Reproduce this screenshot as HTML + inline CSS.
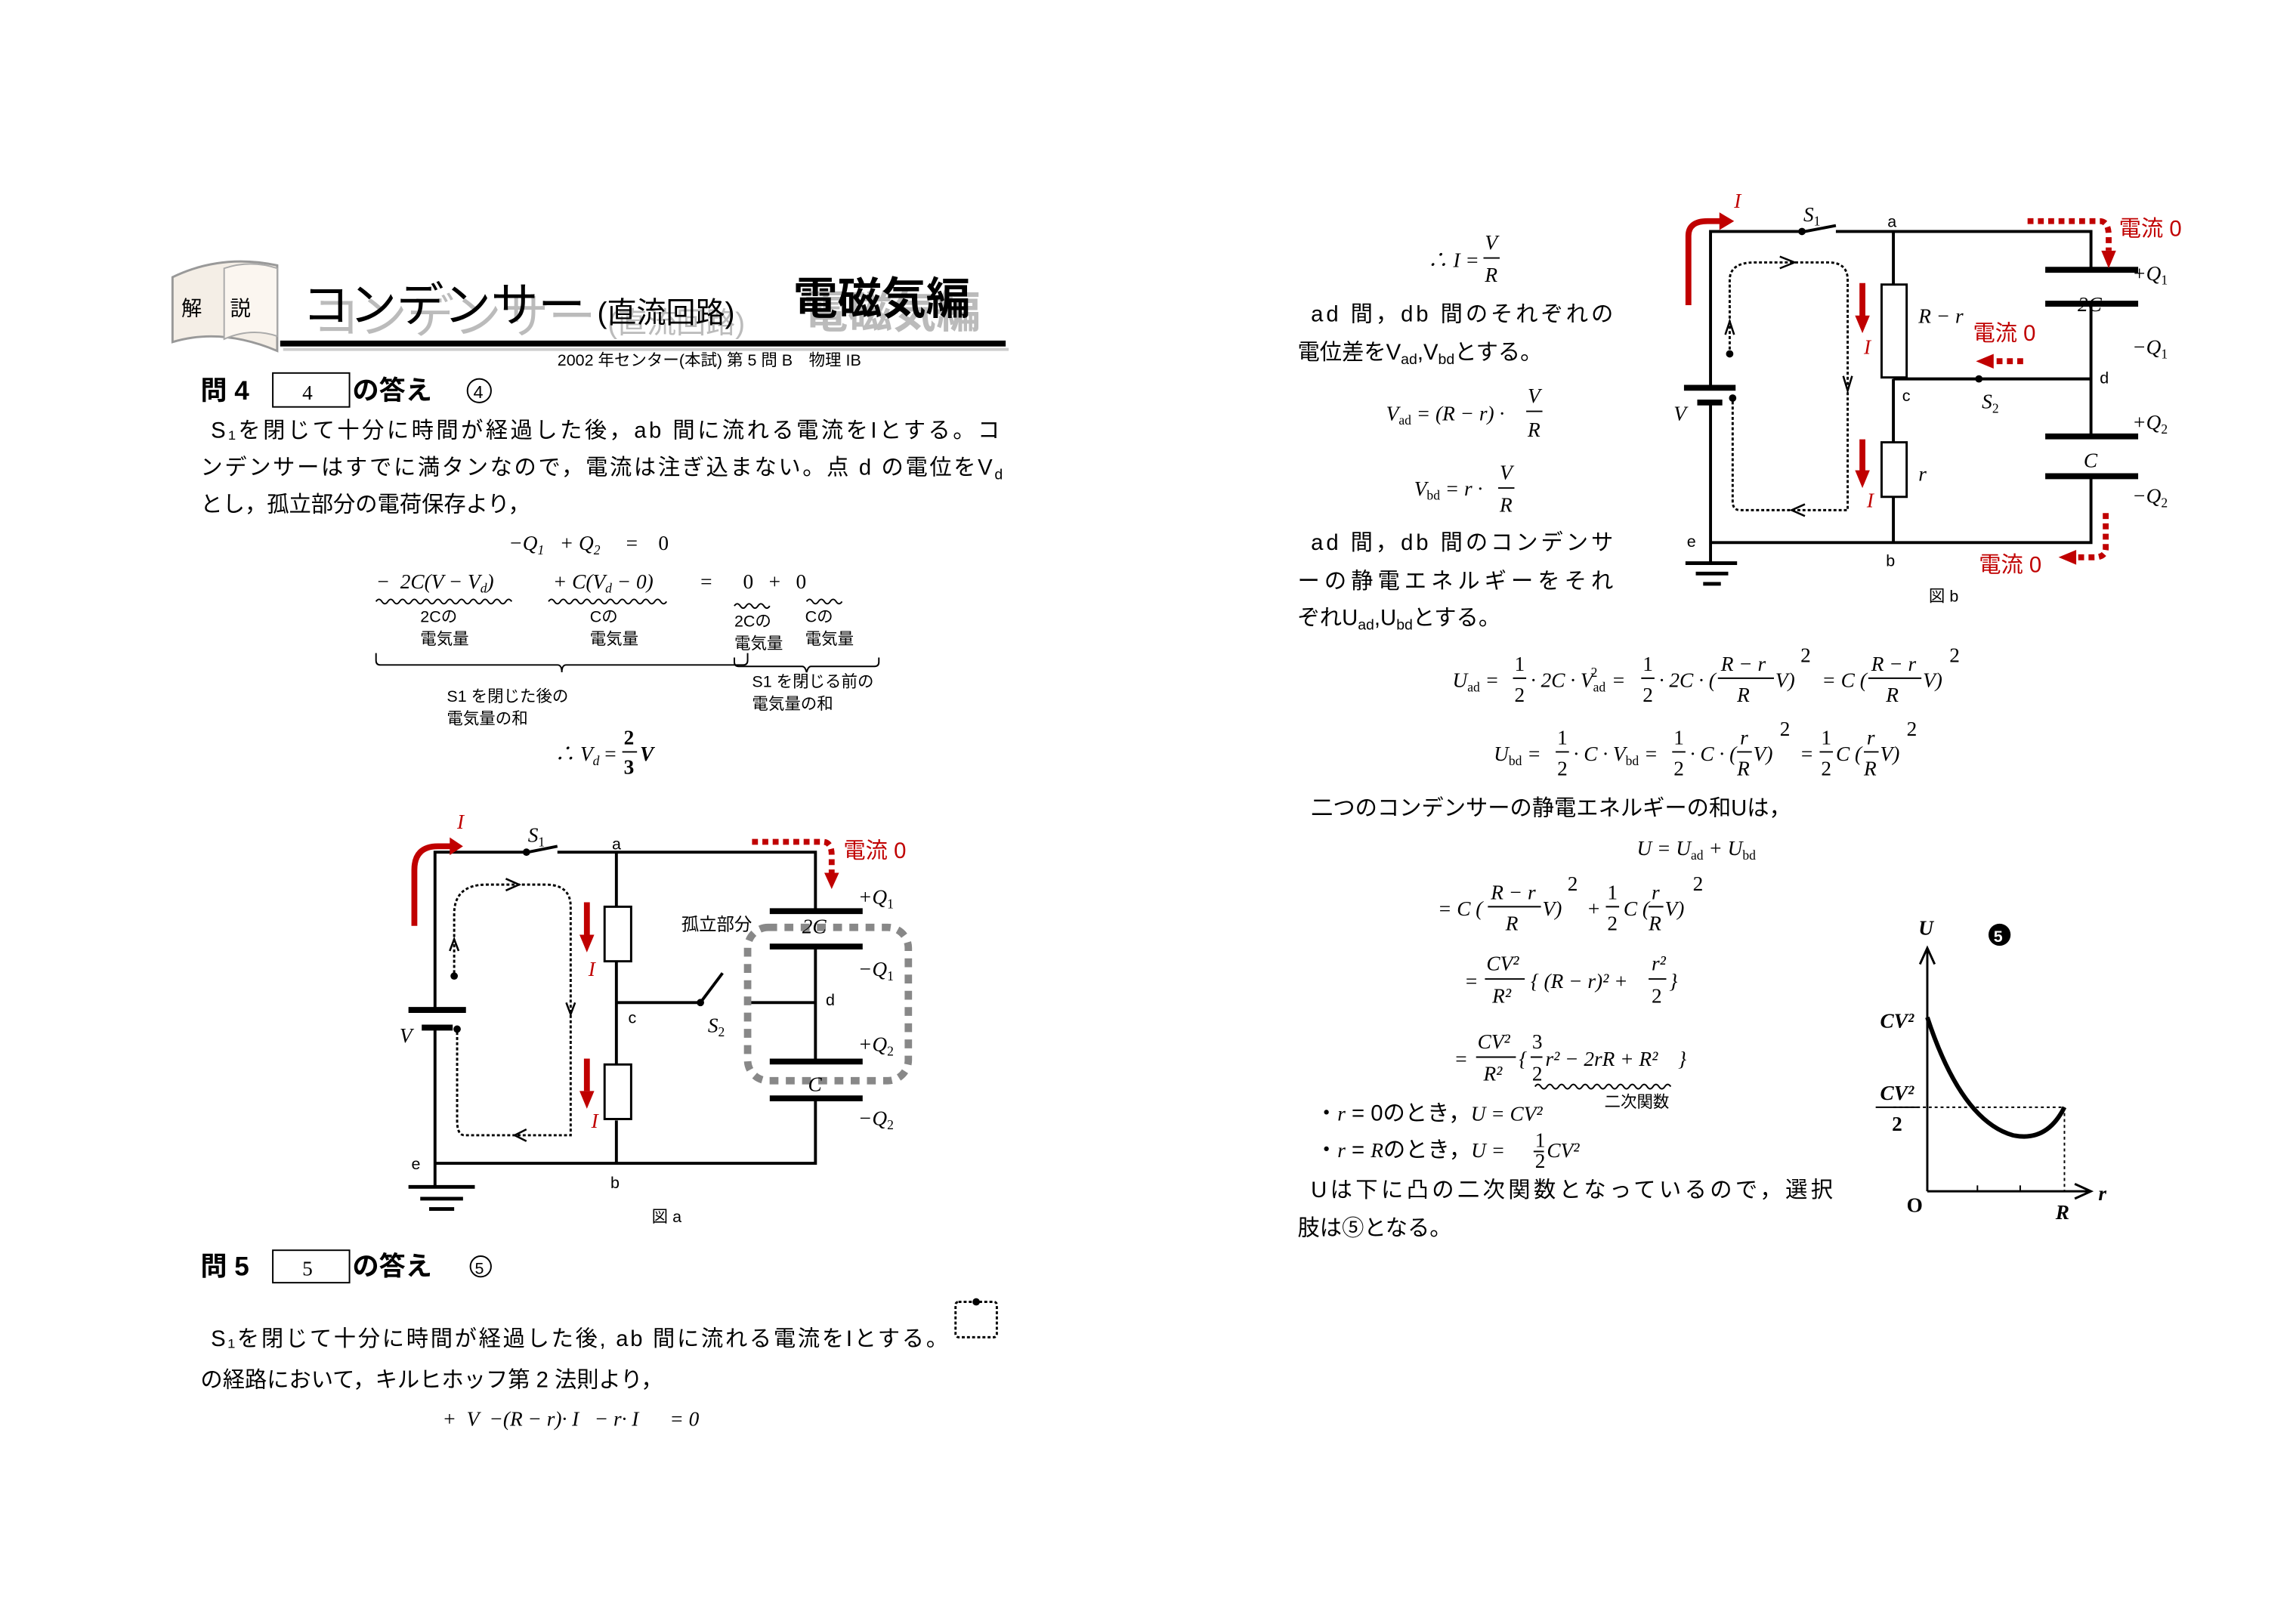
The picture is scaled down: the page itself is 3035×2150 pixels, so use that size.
<!DOCTYPE html>
<html><head><meta charset="utf-8"><style>
html,body{margin:0;padding:0;background:#fff;}
svg{display:block;}
text{font-family:"Liberation Sans","Noto Sans CJK JP",sans-serif;fill:#000;white-space:pre;}
.t{font-size:15px;}
.s{font-size:11px;}
.m{font-family:"Liberation Serif","Noto Serif CJK SC",serif;font-style:italic;font-size:14px;}
.n{font-family:"Liberation Serif",serif;font-size:14px;}
.w{stroke:#000;stroke-width:2;fill:none;}
.pl{stroke:#000;stroke-width:4;}
.dt{stroke:#000;stroke-width:1.5;stroke-dasharray:2 1.5;fill:none;}
.rd{stroke:#c00000;stroke-width:4;fill:none;}
.rdd{stroke:#c00000;stroke-width:4;stroke-dasharray:4 3;fill:none;}
</style></head><body>
<svg width="3035" height="2150" viewBox="0 0 1555 1101.5" preserveAspectRatio="none" xmlns="http://www.w3.org/2000/svg" xml:space="preserve">
<rect width="1555" height="1101.5" fill="#fff"/>
<path d="M117 232 Q150 222 188 238 L188 180 Q150 172 117 188 Z" fill="#f4eee6" stroke="#999" stroke-width="1.5"/>
<path d="M152 230 Q170 222 188 228 L188 182 Q170 176 152 182 Z" fill="#fbf6f0" stroke="#aaa"/>
<text x="123" y="214" font-size="14">解</text><text x="156" y="214" font-size="14">説</text>
<text x="212" y="226" font-size="32" style="fill:#bbb">コンデンサー</text>
<text x="412" y="226" font-size="20" style="fill:#bbb">(直流回路)</text>
<text x="545" y="222" font-size="30" font-weight="bold" style="fill:#bbb">電磁気編</text>
<text x="205" y="218" font-size="32">コンデンサー</text>
<text x="405" y="219" font-size="20">(直流回路)</text>
<text x="538" y="213" font-size="30" font-weight="bold">電磁気編</text>
<rect x="190" y="231" width="492" height="4" fill="#000"/>
<rect x="192" y="236" width="492" height="2" fill="#ccc"/>
<text x="378" y="248" class="s">2002 年センター(本試) 第 5 問 B　物理 IB</text>
<text x="136" y="271" font-size="18" font-weight="bold">問 4</text>
<rect x="185" y="253" width="52" height="23" fill="none" stroke="#000"/>
<text x="205" y="271" font-size="17" class="n">4</text>
<text x="239" y="271" font-size="18" font-weight="bold">の答え</text>
<circle cx="325" cy="265" r="8" fill="none" stroke="#000"/><text x="321" y="270" font-size="12">4</text>
<text x="143" y="297" class="t" textLength="535" lengthAdjust="spacing">S₁を閉じて十分に時間が経過した後，ab 間に流れる電流をIとする。コ</text>
<text x="136" y="322" class="t" textLength="544" lengthAdjust="spacing">ンデンサーはすでに満タンなので，電流は注ぎ込まない。点 d の電位をV<tspan font-size="10" dy="3">d</tspan></text>
<text x="136" y="347" class="t">とし，孤立部分の電荷保存より，</text>
<text x="345" y="373" class="m">−Q<tspan font-size="9" dy="3">1</tspan><tspan dy="-3">   + Q</tspan><tspan font-size="9" dy="3">2</tspan><tspan dy="-3" font-style="normal">     =    0</tspan></text>
<text x="255" y="399" class="m">−  2C(V − V<tspan font-size="9" dy="3">d</tspan><tspan dy="-3">)</tspan></text>
<text x="375" y="399" class="m">+ C(V<tspan font-size="9" dy="3">d</tspan><tspan dy="-3"> − 0)</tspan></text>
<text x="475" y="399" class="n">=      0   +   0</text>
<path d="M255 408 q2 -3 4 0 t4 0 t4 0 t4 0 t4 0 t4 0 t4 0 t4 0 t4 0 t4 0 t4 0 t4 0 t4 0 t4 0 t4 0 t4 0 t4 0 t4 0 t4 0 t4 0 t4 0 t4 0 t4 0" stroke="#000" fill="none"/>
<path d="M372 408 q2 -3 4 0 t4 0 t4 0 t4 0 t4 0 t4 0 t4 0 t4 0 t4 0 t4 0 t4 0 t4 0 t4 0 t4 0 t4 0 t4 0 t4 0 t4 0 t4 0 t4 0" stroke="#000" fill="none"/>
<path d="M498 411 q2 -3 4 0 t4 0 t4 0 t4 0 t4 0 t4 0" stroke="#000" fill="none"/>
<path d="M547 408 q2 -3 4 0 t4 0 t4 0 t4 0 t4 0 t4 0" stroke="#000" fill="none"/>
<text x="285" y="422" class="s">2Cの</text><text x="285" y="437" class="s">電気量</text>
<text x="400" y="422" class="s">Cの</text><text x="400" y="437" class="s">電気量</text>
<text x="498" y="425" class="s">2Cの</text><text x="498" y="440" class="s">電気量</text>
<text x="546" y="422" class="s">Cの</text><text x="546" y="437" class="s">電気量</text>
<path d="M255 443 v5 q0 3 3 3 h120 q3 0 3 5 q0 -5 3 -5 h120 q3 0 3 -3 v-5" stroke="#000" fill="none"/>
<path d="M498 446 v3 q0 3 3 3 h43 q2 0 3 4 q1 -4 3 -4 h43 q3 0 3 -3 v-3" stroke="#000" fill="none"/>
<text x="303" y="476" class="s">S1 を閉じた後の</text><text x="303" y="491" class="s">電気量の和</text>
<text x="510" y="466" class="s">S1 を閉じる前の</text><text x="510" y="481" class="s">電気量の和</text>
<text x="376" y="516" class="m">∴ V<tspan font-size="9" dy="3">d</tspan><tspan dy="-3" font-style="normal"> =</tspan></text>
<text x="423" y="505" class="n" font-weight="bold">2</text><line x1="422" y1="510" x2="432" y2="510" stroke="#000"/><text x="423" y="525" class="n" font-weight="bold">3</text>
<text x="434" y="516" class="m" font-weight="bold">V</text>
<g>
<path class="w" d="M295 684 V578 H355 M378 574 L358 578 M378 578 H553 V618"/>
<circle cx="357" cy="578" r="2.5"/>
<path class="w" d="M295 697 V805 M295 789 H553 V745 M553 642 V720 M418 578 V615 M418 652 V722 M418 760 V789 M418 680 H475 L490 660 M505 680 H553"/>
<circle cx="475" cy="680" r="2.5"/>
<rect x="410" y="615" width="18" height="37" fill="#fff" stroke="#000" stroke-width="1.5"/>
<rect x="410" y="722" width="18" height="37" fill="#fff" stroke="#000" stroke-width="1.5"/>
<line class="pl" x1="277" y1="685" x2="316" y2="685"/><line class="pl" x1="286" y1="697" x2="307" y2="697"/>
<line x1="277" y1="805" x2="322" y2="805" stroke="#000" stroke-width="2.5"/><line x1="285" y1="813" x2="314" y2="813" stroke="#000" stroke-width="2.5"/><line x1="291" y1="820" x2="308" y2="820" stroke="#000" stroke-width="2.5"/>
<line class="pl" x1="522" y1="618" x2="585" y2="618"/><line class="pl" x1="522" y1="642" x2="585" y2="642"/>
<line class="pl" x1="522" y1="720" x2="585" y2="720"/><line class="pl" x1="522" y1="745" x2="585" y2="745"/>
<rect x="507" y="629" width="109" height="104" rx="14" fill="none" stroke="#888" stroke-width="5" stroke-dasharray="6 5"/>
<path class="dt" d="M308 660 V620 Q308 600 330 600 H370 Q387 600 387 615 V770 H315 Q310 770 310 760 V700"/>
<circle cx="308" cy="662" r="2.5"/><circle cx="310" cy="698" r="2.5"/>
<path d="M343 596 L352 600 L343 604 M305 645 L308 637 L311 645 M384 680 L387 688 L390 680 M357 766 L349 770 L357 774" stroke="#000" fill="none" stroke-width="1.3"/>
<path class="rd" d="M281 628 V590 Q281 574 297 574 H306"/><path d="M305 568 L314 574 L305 580 Z" fill="#c00000"/>
<text x="310" y="562" class="m" style="fill:#c00000">I</text>
<path class="rd" d="M398 612 V635"/><path d="M393 634 L398 646 L403 634 Z" fill="#c00000"/>
<path class="rd" d="M398 718 V740"/><path d="M393 740 L398 752 L403 740 Z" fill="#c00000"/>
<text x="399" y="662" class="m" style="fill:#c00000">I</text><text x="401" y="765" class="m" style="fill:#c00000">I</text>
<path class="rdd" d="M510 571 H558 Q564 571 564 580 V592"/><path d="M559 592 L564 603 L569 592 Z" fill="#c00000"/>
<text x="572" y="582" class="t" style="fill:#c00000">電流 0</text>
<text x="358" y="571" class="m">S<tspan font-size="9" dy="3" font-style="normal">1</tspan></text>
<text x="415" y="576" class="s">a</text><text x="426" y="694" class="s">c</text><text x="414" y="806" class="s">b</text><text x="279" y="793" class="s">e</text>
<text x="560" y="682" class="s">d</text>
<text x="480" y="700" class="m">S<tspan font-size="9" dy="3" font-style="normal">2</tspan></text>
<text x="271" y="707" class="m">V</text>
<text x="462" y="631" font-size="12">孤立部分</text><text x="544" y="633" class="m">2C</text><text x="548" y="740" class="m">C</text>
<text x="582" y="613" class="m">+Q<tspan font-size="9" dy="3" font-style="normal">1</tspan></text>
<text x="582" y="662" class="m">−Q<tspan font-size="9" dy="3" font-style="normal">1</tspan></text>
<text x="582" y="713" class="m">+Q<tspan font-size="9" dy="3" font-style="normal">2</tspan></text>
<text x="582" y="763" class="m">−Q<tspan font-size="9" dy="3" font-style="normal">2</tspan></text>
<text x="442" y="829" class="s">図 a</text>
</g>
<text x="136" y="865" font-size="18" font-weight="bold">問 5</text>
<rect x="185" y="848" width="52" height="22" fill="none" stroke="#000"/>
<text x="205" y="865" font-size="17" class="n">5</text>
<text x="239" y="865" font-size="18" font-weight="bold">の答え</text>
<circle cx="326" cy="859" r="7" fill="none" stroke="#000"/><text x="322" y="864" font-size="11">5</text>
<text x="143" y="913" class="t" textLength="500" lengthAdjust="spacing">S₁を閉じて十分に時間が経過した後, ab 間に流れる電流をIとする。</text>
<rect x="648" y="883" width="28" height="24" rx="2" class="dt"/><circle cx="662" cy="883" r="2.5"/>
<text x="136" y="941" class="t">の経路において，キルヒホッフ第 2 法則より，</text>
<text x="300" y="967" class="m">+  V  −(R − r)· I   − r· I      = 0</text>
<text x="968" y="181" class="m">∴ I =</text>
<text x="1007" y="169" class="m">V</text><line x1="1006" y1="175" x2="1017" y2="175" stroke="#000"/><text x="1007" y="191" class="m">R</text>
<text x="889" y="218" class="t" textLength="205" lengthAdjust="spacing">ad 間，db 間のそれぞれの</text>
<text x="880" y="244" class="t">電位差をV<tspan font-size="10" dy="3">ad</tspan><tspan dy="-3">,V</tspan><tspan font-size="10" dy="3">bd</tspan><tspan dy="-3">とする。</tspan></text>
<text x="940" y="285" class="m">V<tspan font-size="9" dy="3" font-style="normal">ad</tspan><tspan dy="-3"> = (R − r) ·</tspan></text>
<text x="1036" y="273" class="m">V</text><line x1="1035" y1="279" x2="1046" y2="279" stroke="#000"/><text x="1036" y="296" class="m">R</text>
<text x="959" y="336" class="m">V<tspan font-size="9" dy="3" font-style="normal">bd</tspan><tspan dy="-3"> = r ·</tspan></text>
<text x="1017" y="325" class="m">V</text><line x1="1016" y1="331" x2="1027" y2="331" stroke="#000"/><text x="1017" y="347" class="m">R</text>
<text x="889" y="373" class="t" textLength="205" lengthAdjust="spacing">ad 間，db 間のコンデンサ</text>
<text x="880" y="399" class="t" textLength="214" lengthAdjust="spacing">ーの静電エネルギーをそれ</text>
<text x="880" y="424" class="t">ぞれU<tspan font-size="10" dy="3">ad</tspan><tspan dy="-3">,U</tspan><tspan font-size="10" dy="3">bd</tspan><tspan dy="-3">とする。</tspan></text>
<g>
<path class="w" d="M1160 262 V157 H1220 M1245 153 L1224 157 M1245 157 H1418 V183 M1418 206 V296 M1418 323 V368 H1160 M1160 273 V382 M1284 157 V193 M1284 257 V300 M1284 337 V368 M1284 257 H1342 M1342 257 H1418"/>
<circle cx="1222" cy="157" r="2.5"/><circle cx="1342" cy="257" r="2.5"/>
<rect x="1276" y="193" width="17" height="63" fill="#fff" stroke="#000" stroke-width="1.5"/>
<rect x="1276" y="300" width="17" height="37" fill="#fff" stroke="#000" stroke-width="1.5"/>
<line class="pl" x1="1142" y1="263" x2="1177" y2="263"/><line class="pl" x1="1151" y1="273" x2="1168" y2="273"/>
<line x1="1143" y1="382" x2="1178" y2="382" stroke="#000" stroke-width="2.5"/><line x1="1150" y1="389" x2="1172" y2="389" stroke="#000" stroke-width="2.5"/><line x1="1155" y1="396" x2="1167" y2="396" stroke="#000" stroke-width="2.5"/>
<line class="pl" x1="1387" y1="183" x2="1450" y2="183"/><line class="pl" x1="1387" y1="206" x2="1450" y2="206"/>
<line class="pl" x1="1387" y1="296" x2="1450" y2="296"/><line class="pl" x1="1387" y1="323" x2="1450" y2="323"/>
<path class="dt" d="M1173 237 V190 Q1173 178 1190 178 H1240 Q1253 178 1253 190 V346 H1180 Q1175 346 1175 340 V270"/>
<circle cx="1173" cy="240" r="2.5"/><circle cx="1175" cy="270" r="2.5"/>
<path d="M1207 174 L1217 178 L1207 182 M1170 227 L1173 218 L1176 227 M1250 255 L1253 265 L1256 255 M1224 342 L1215 346 L1224 350" stroke="#000" fill="none" stroke-width="1.3"/>
<path class="rd" d="M1145 207 V160 Q1145 150 1158 150 H1168"/><path d="M1166 144 L1176 150 L1166 156 Z" fill="#c00000"/>
<text x="1176" y="141" class="m" style="fill:#c00000">I</text>
<path class="rd" d="M1263 192 V215"/><path d="M1258 214 L1263 226 L1268 214 Z" fill="#c00000"/>
<path class="rd" d="M1263 298 V320"/><path d="M1258 319 L1263 331 L1268 319 Z" fill="#c00000"/>
<text x="1264" y="240" class="m" style="fill:#c00000">I</text><text x="1266" y="344" class="m" style="fill:#c00000">I</text>
<path class="rdd" d="M1375 150 H1424 Q1430 150 1430 160 V170"/><path d="M1425 170 L1430 182 L1435 170 Z" fill="#c00000"/>
<text x="1437" y="160" class="t" style="fill:#c00000">電流 0</text>
<path class="rdd" d="M1372 245 H1352"/><path d="M1352 240 L1340 245 L1352 250 Z" fill="#c00000"/>
<text x="1338" y="231" class="t" style="fill:#c00000">電流 0</text>
<path class="rdd" d="M1428 348 V372 Q1428 378 1420 378 H1408"/><path d="M1408 373 L1396 378 L1408 383 Z" fill="#c00000"/>
<text x="1342" y="388" class="t" style="fill:#c00000">電流 0</text>
<text x="1223" y="150" class="m">S<tspan font-size="9" dy="3" font-style="normal">1</tspan></text>
<text x="1280" y="154" class="s">a</text><text x="1290" y="272" class="s">c</text><text x="1279" y="384" class="s">b</text><text x="1144" y="371" class="s">e</text>
<text x="1424" y="260" class="s">d</text>
<text x="1344" y="277" class="m">S<tspan font-size="9" dy="3" font-style="normal">2</tspan></text>
<text x="1135" y="285" class="m">V</text>
<text x="1301" y="219" class="m">R − r</text><text x="1301" y="326" class="m">r</text>
<text x="1409" y="211" class="m">2C</text><text x="1413" y="317" class="m">C</text>
<text x="1446" y="190" class="m">+Q<tspan font-size="9" dy="3" font-style="normal">1</tspan></text>
<text x="1446" y="240" class="m">−Q<tspan font-size="9" dy="3" font-style="normal">1</tspan></text>
<text x="1446" y="291" class="m">+Q<tspan font-size="9" dy="3" font-style="normal">2</tspan></text>
<text x="1446" y="341" class="m">−Q<tspan font-size="9" dy="3" font-style="normal">2</tspan></text>
<text x="1308" y="408" class="s">図 b</text>
</g>
<text x="985" y="466" class="m">U<tspan font-size="9" dy="3" font-style="normal">ad</tspan><tspan dy="-3"> = </tspan></text>
<text x="1027" y="455" class="n">1</text><line x1="1026" y1="460" x2="1035" y2="460" stroke="#000"/><text x="1027" y="476" class="n">2</text>
<text x="1038" y="466" class="m">· 2C · V<tspan font-size="9" dy="3" font-style="normal">ad</tspan><tspan font-size="9" dx="-10" dy="-10" font-style="normal">2</tspan><tspan dx="6" dy="7"> = </tspan></text>
<text x="1114" y="455" class="n">1</text><line x1="1113" y1="460" x2="1122" y2="460" stroke="#000"/><text x="1114" y="476" class="n">2</text>
<text x="1125" y="466" class="m">· 2C · (</text>
<text x="1167" y="455" class="m">R − r</text><line x1="1165" y1="460" x2="1203" y2="460" stroke="#000"/><text x="1178" y="476" class="m">R</text>
<text x="1204" y="466" class="m">V)</text><text x="1221" y="449" class="n" font-size="9">2</text>
<text x="1232" y="466" class="m"> = C (</text>
<text x="1269" y="455" class="m">R − r</text><line x1="1267" y1="460" x2="1303" y2="460" stroke="#000"/><text x="1279" y="476" class="m">R</text>
<text x="1304" y="466" class="m">V)</text><text x="1322" y="449" class="n" font-size="9">2</text>
<text x="1013" y="516" class="m">U<tspan font-size="9" dy="3" font-style="normal">bd</tspan><tspan dy="-3"> = </tspan></text>
<text x="1056" y="505" class="n">1</text><line x1="1055" y1="510" x2="1064" y2="510" stroke="#000"/><text x="1056" y="526" class="n">2</text>
<text x="1067" y="516" class="m">· C · V<tspan font-size="9" dy="3" font-style="normal">bd</tspan><tspan dy="-3"> = </tspan></text>
<text x="1135" y="505" class="n">1</text><line x1="1134" y1="510" x2="1143" y2="510" stroke="#000"/><text x="1135" y="526" class="n">2</text>
<text x="1146" y="516" class="m">· C · (</text><text x="1180" y="505" class="m">r</text><line x1="1178" y1="510" x2="1188" y2="510" stroke="#000"/><text x="1178" y="526" class="m">R</text><text x="1189" y="516" class="m">V)</text><text x="1207" y="499" class="n" font-size="9">2</text>
<text x="1217" y="516" class="m"> = </text><text x="1235" y="505" class="n">1</text><line x1="1234" y1="510" x2="1243" y2="510" stroke="#000"/><text x="1235" y="526" class="n">2</text>
<text x="1245" y="516" class="m">C (</text><text x="1266" y="505" class="m">r</text><line x1="1264" y1="510" x2="1274" y2="510" stroke="#000"/><text x="1264" y="526" class="m">R</text><text x="1275" y="516" class="m">V)</text><text x="1293" y="499" class="n" font-size="9">2</text>
<text x="889" y="553" class="t">二つのコンデンサーの静電エネルギーの和Uは，</text>
<text x="1110" y="580" class="m">U = U<tspan font-size="9" dy="3" font-style="normal">ad</tspan><tspan dy="-3"> + U</tspan><tspan font-size="9" dy="3" font-style="normal">bd</tspan></text>
<text x="975" y="621" class="m">= C (</text><text x="1011" y="610" class="m">R − r</text><line x1="1009" y1="615" x2="1045" y2="615" stroke="#000"/><text x="1021" y="631" class="m">R</text><text x="1046" y="621" class="m">V)</text><text x="1063" y="604" class="n" font-size="9">2</text>
<text x="1076" y="621" class="m">+</text><text x="1090" y="610" class="n">1</text><line x1="1089" y1="615" x2="1098" y2="615" stroke="#000"/><text x="1090" y="631" class="n">2</text>
<text x="1101" y="621" class="m">C (</text><text x="1120" y="610" class="m">r</text><line x1="1118" y1="615" x2="1128" y2="615" stroke="#000"/><text x="1118" y="631" class="m">R</text><text x="1129" y="621" class="m">V)</text><text x="1148" y="604" class="n" font-size="9">2</text>
<text x="993" y="670" class="m">=</text><text x="1008" y="658" class="m">CV²</text><line x1="1007" y1="664" x2="1034" y2="664" stroke="#000"/><text x="1012" y="680" class="m">R²</text>
<text x="1038" y="670" class="m" font-size="20">{</text><text x="1047" y="670" class="m">(R − r)² +</text><text x="1120" y="658" class="m">r²</text><line x1="1118" y1="664" x2="1130" y2="664" stroke="#000"/><text x="1120" y="680" class="n">2</text><text x="1132" y="670" class="m" font-size="20">}</text>
<text x="986" y="723" class="m">=</text><text x="1002" y="711" class="m">CV²</text><line x1="1001" y1="717" x2="1028" y2="717" stroke="#000"/><text x="1006" y="733" class="m">R²</text>
<text x="1030" y="723" class="m" font-size="20">{</text><text x="1039" y="711" class="n">3</text><line x1="1038" y1="717" x2="1046" y2="717" stroke="#000"/><text x="1039" y="733" class="n">2</text>
<text x="1048" y="723" class="m">r² − 2rR + R²</text><text x="1138" y="723" class="m" font-size="20">}</text>
<path d="M1041 737 q2 -3 4 0 t4 0 t4 0 t4 0 t4 0 t4 0 t4 0 t4 0 t4 0 t4 0 t4 0 t4 0 t4 0 t4 0 t4 0 t4 0 t4 0 t4 0 t4 0 t4 0 t4 0 t4 0 t4 0" stroke="#000" fill="none"/>
<text x="1088" y="751" font-size="11">二次関数</text>
<text x="892" y="760" class="t">・<tspan class="m">r</tspan> = 0のとき，<tspan class="m">U = CV²</tspan></text>
<text x="892" y="785" class="t">・<tspan class="m">r</tspan> = <tspan class="m">R</tspan>のとき，<tspan class="m">U =</tspan></text>
<text x="1041" y="778" class="n" font-size="9">1</text><line x1="1040" y1="781" x2="1047" y2="781" stroke="#000"/><text x="1041" y="792" class="n" font-size="9">2</text>
<text x="1049" y="785" class="m">CV²</text>
<text x="889" y="812" class="t" textLength="354" lengthAdjust="spacing">Uは下に凸の二次関数となっているので，選択</text>
<text x="880" y="838" class="t">肢は⑤となる。</text>
<g>
<path d="M1307 808 V645 M1302 654 L1307 643 L1312 654 M1307 808 H1416 M1407 803 L1418 808 L1407 813" stroke="#000" stroke-width="1.5" fill="none"/>
<path d="M1307 690 Q1330 760 1365 770 Q1388 775 1400 751" stroke="#000" stroke-width="3" fill="none"/>
<path d="M1284 751 H1400 V808" stroke="#000" stroke-dasharray="2 2" fill="none"/>
<line x1="1341" y1="804" x2="1341" y2="808" stroke="#000"/><line x1="1370" y1="804" x2="1370" y2="808" stroke="#000"/>
<text x="1301" y="634" class="m" font-weight="bold">U</text>
<circle cx="1356" cy="634" r="7.5"/><text x="1352" y="639" font-size="11" style="fill:#fff" font-weight="bold">5</text>
<text x="1275" y="697" class="m" font-weight="bold">CV²</text>
<text x="1275" y="746" class="m" font-weight="bold">CV²</text><line x1="1272" y1="751" x2="1302" y2="751" stroke="#000"/><text x="1283" y="767" class="n" font-weight="bold">2</text>
<text x="1293" y="822" class="n" font-weight="bold">O</text>
<text x="1394" y="827" class="m" font-weight="bold">R</text>
<text x="1423" y="814" class="m" font-weight="bold">r</text>
</g>
</svg>
</body></html>
